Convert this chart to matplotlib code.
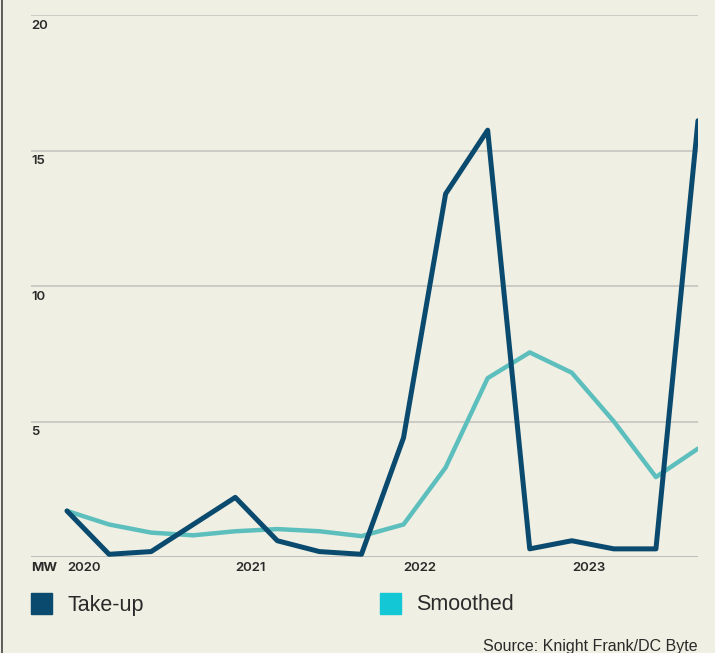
import matplotlib.pyplot as plt
from matplotlib.lines import Line2D
from matplotlib.patches import Rectangle

plt.rcParams['font.family'] = ['Liberation Sans', 'DejaVu Sans']

# quarterly data, 2020 Q1 .. 2023 Q4
quarters = list(range(16))
take_up = [1.7, 0.1, 0.2, 1.2, 2.2, 0.6, 0.2, 0.1, 4.4, 13.4, 15.75, 0.3, 0.6, 0.3, 0.3, 16.1]
smoothed = [1.7, 1.2, 0.9, 0.8, 0.95, 1.03, 0.95, 0.77, 1.2, 3.3, 6.6, 7.55, 6.8, 5.0, 2.95, 4.0]
year_ticks = [0, 4, 8, 12]
year_labels = ['2020', '2021', '2022', '2023']
y_ticks = [5, 10, 15, 20]

bg = '#efefe3'
dark = '#0b4a6f'
teal_line = '#5dbfbd'
teal_box = '#13c8d4'
txt = '#2a2a2a'
tick_font = dict(family=['Inter', 'DejaVu Sans'], fontsize=9.5, fontweight='semibold', color=txt)

fig = plt.figure(figsize=(7.15, 6.53), dpi=100, facecolor=bg)
ax = fig.add_axes([31 / 715, 1 - 557 / 653, 667 / 715, 542 / 653])
ax.set_facecolor(bg)
ax.set_xlim(-36 / 42.07, 15)
ax.set_ylim(0, 20)

for y in y_ticks:
    ax.axhline(y, color='#c4c4c0', lw=1.2, zorder=1)
    ax.text(ax.get_xlim()[0], y - 0.18, str(y), ha='left', va='top', **tick_font)
ax.axhline(0, color='#b5b5b5', lw=1.2, zorder=1)

ax.plot(quarters, smoothed, color=teal_line, lw=3.2, solid_capstyle='round', solid_joinstyle='round', zorder=2)
ax.plot(quarters, take_up, color=dark, lw=3.6, solid_capstyle='round', solid_joinstyle='round', zorder=3)

for x, lab in zip(year_ticks, year_labels):
    ax.text(x, -0.2, lab, ha='left', va='top', **tick_font)
ax.text(ax.get_xlim()[0], -0.2, 'MW', ha='left', va='top',
        family=['Inter', 'DejaVu Sans'], fontsize=9.5, fontweight='bold', color=txt)

ax.set_xticks([])
ax.set_yticks([])
for s in ax.spines.values():
    s.set_visible(False)

# legend
fig.add_artist(Rectangle((31 / 715, 1 - 614 / 653), 21 / 715, 21 / 653, transform=fig.transFigure, color=dark))
fig.text(67 / 715, 1 - 605 / 653, 'Take-up', ha='left', va='center', fontsize=15.5, color=txt)
fig.add_artist(Rectangle((380 / 715, 1 - 614 / 653), 21 / 715, 21 / 653, transform=fig.transFigure, color=teal_box))
fig.text(416 / 715, 1 - 605 / 653, 'Smoothed', ha='left', va='center', fontsize=15.5, color=txt)

fig.text(698 / 715, 1 - 646.5 / 653, 'Source: Knight Frank/DC Byte', ha='right', va='center', fontsize=11.5, color=txt)

# left border
fig.add_artist(Line2D([1.5 / 715, 1.5 / 715], [0, 1], transform=fig.transFigure, color='#444444', lw=1.2))

fig.savefig('out.png', dpi=100, facecolor=bg)
